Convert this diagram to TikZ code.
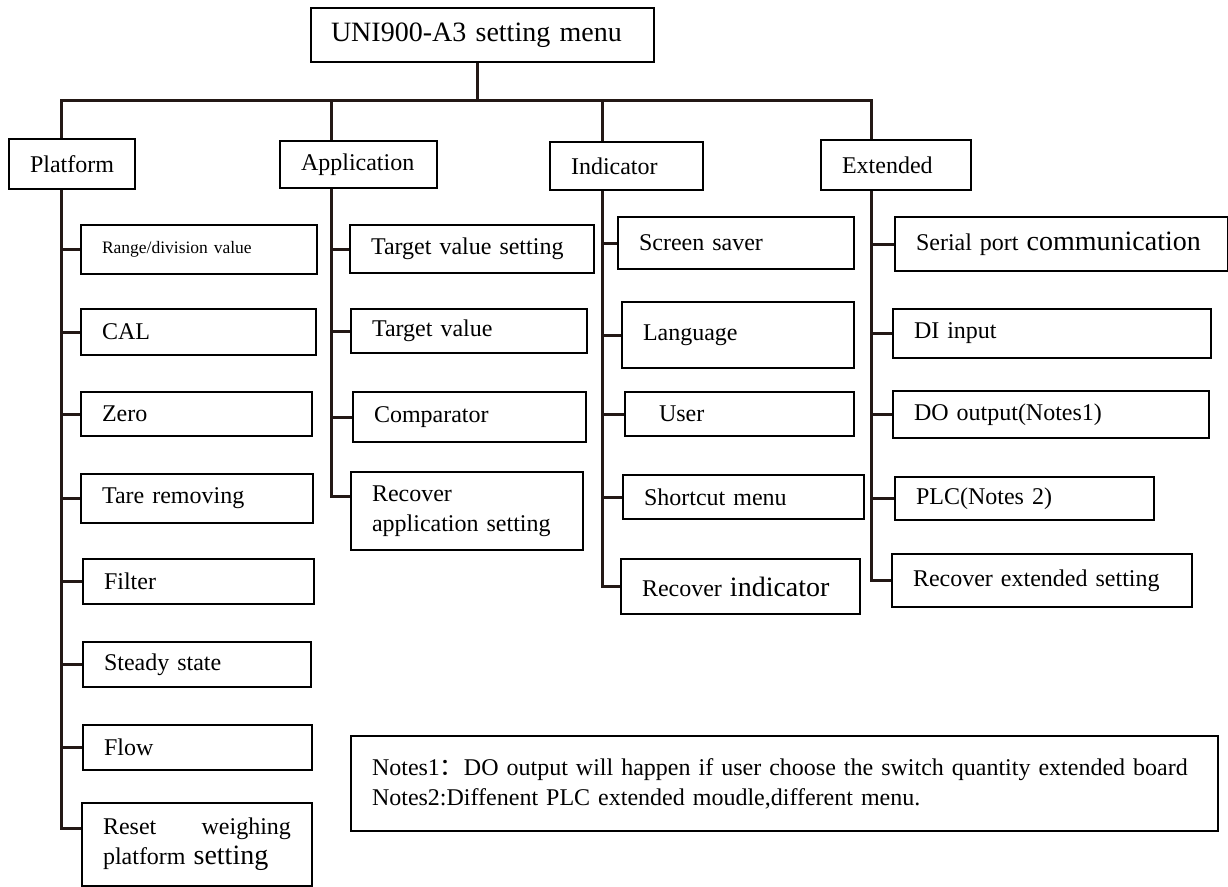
\documentclass[tikz,border=0pt]{standalone}
\usepackage{fontspec}
\setmainfont{Liberation Serif}
\newfontfamily\cjk{Noto Sans CJK SC}
\usetikzlibrary{calc}
\definecolor{lineclr}{RGB}{35,24,21}
\hyphenpenalty=10000
\exhyphenpenalty=10000
\newcommand{\mainsize}{\fontsize{24}{30}\selectfont}
\newcommand{\bigsize}{\fontsize{28}{32}\selectfont}
\newcommand{\smallsize}{\fontsize{17.5}{21}\selectfont}

\tikzstyle{menubox} = [draw=black, line width=2pt, anchor=north west, align=left, inner xsep=21pt, inner ysep=0pt, font=\mainsize]
\tikzstyle{link} = [draw=lineclr, line width=3pt]

\begin{document}
\begin{tikzpicture}[x=1pt,y=-1pt]
	\useasboundingbox (0,0) rectangle (1228,886);
	\node[menubox, font=\bigsize, inner xsep=20pt, minimum width=343pt, minimum height=54pt, text width=303pt] (root) at (310,7) {UNI900-A3 setting menu};

	\node[menubox, minimum width=126pt, minimum height=50pt, text width=84pt] (plat) at (8,138) {Platform};
	\node[menubox, minimum width=157pt, minimum height=47pt, text width=115pt] (app) at (279,140) {Application};
	\node[menubox, minimum width=153pt, minimum height=48pt, text width=111pt] (ind) at (549,141) {Indicator};
	\node[menubox, minimum width=150pt, minimum height=50pt, text width=108pt] (ext) at (820,139) {Extended};

	\node[menubox, font=\smallsize, minimum width=236pt, minimum height=49pt, text width=194pt] (p1) at (80,224) {Range/division value};
	\node[menubox, minimum width=235pt, minimum height=46pt, text width=193pt] (p2) at (80,308) {CAL};
	\node[menubox, minimum width=231pt, minimum height=44pt, text width=189pt] (p3) at (80,391) {Zero};
	\node[menubox, minimum width=232pt, minimum height=49pt, text width=190pt] (p4) at (80,473) {Tare removing};
	\node[menubox, minimum width=231pt, minimum height=45pt, text width=189pt] (p5) at (82,558) {Filter};
	\node[menubox, minimum width=228pt, minimum height=45pt, text width=186pt] (p6) at (82,641) {Steady state};
	\node[menubox, minimum width=229pt, minimum height=45pt, text width=187pt] (p7) at (82,724) {Flow};
	\node[menubox, minimum width=230pt, minimum height=83pt, text width=188pt] (p8) at (81,802) {Reset\hfill weighing\\platform {\bigsize setting}};

	\node[menubox, minimum width=244pt, minimum height=48pt, text width=202pt] (a1) at (349,224) {Target value setting};
	\node[menubox, minimum width=236pt, minimum height=44pt, text width=194pt] (a2) at (350,308) {Target value};
	\node[menubox, minimum width=233pt, minimum height=50pt, text width=191pt] (a3) at (352,391) {Comparator};
	\node[menubox, minimum width=232pt, minimum height=78pt, text width=190pt] (a4) at (350,471) {Recover\\application setting};

	\node[menubox, minimum width=236pt, minimum height=52pt, text width=194pt] (i1) at (617,216) {Screen saver};
	\node[menubox, minimum width=232pt, minimum height=66pt, text width=190pt] (i2) at (621,301) {Language};
	\node[menubox, inner xsep=34pt, minimum width=229pt, minimum height=44pt, text width=161pt] (i3) at (624,391) {User};
	\node[menubox, minimum width=241pt, minimum height=44pt, text width=199pt] (i4) at (622,474) {Shortcut menu};
	\node[menubox, minimum width=239pt, minimum height=55pt, text width=197pt] (i5) at (620,558) {Recover {\bigsize indicator}};

	\node[menubox, minimum width=333pt, minimum height=54pt, text width=291pt] (e1) at (894,216) {Serial port {\bigsize communication}};
	\node[menubox, minimum width=318pt, minimum height=49pt, text width=276pt] (e2) at (892,308) {DI input};
	\node[menubox, minimum width=316pt, minimum height=47pt, text width=274pt] (e3) at (892,390) {DO output(Notes1)};
	\node[menubox, minimum width=259pt, minimum height=43pt, text width=217pt] (e4) at (894,476) {PLC(Notes 2)};
	\node[menubox, minimum width=300pt, minimum height=53pt, text width=258pt] (e5) at (891,553) {Recover extended setting};

	\node[menubox, minimum width=867pt, minimum height=95pt, text width=825pt] (notes) at (350,735) {Notes1{\cjk ：}DO output will happen if user choose the switch quantity extended board\\Notes2:Diffenent PLC extended moudle,different menu.};

	\coordinate (jr) at (477,100);
	\coordinate (j1) at (61,100);
	\coordinate (j2) at (331,100);
	\coordinate (j3) at (602,100);
	\coordinate (j4) at (871,100);
	\draw[link] (root.south -| jr) -- (jr);
	\draw[link] (plat.north -| j1) -- (j1) -- (j4) -- (ext.north -| j4);
	\draw[link] (j2) -- (app.north -| j2);
	\draw[link] (j3) -- (ind.north -| j3);

	\draw[link] (plat.south -| j1) |- ($(p8.north west)+(0,26)$);
	\foreach \c in {p1,p2,p3,p4,p5,p6,p7}
		\draw[link] (\c.west -| j1) -- (\c.west);
	\draw[link] (app.south -| j2) |- ($(a4.north west)+(0,25)$);
	\foreach \c in {a1,a2,a3}
		\draw[link] (\c.west -| j2) -- (\c.west);
	\draw[link] (ind.south -| j3) |- (i5.west);
	\foreach \c in {i1,i2,i3,i4}
		\draw[link] (\c.west -| j3) -- (\c.west);
	\draw[link] (ext.south -| j4) |- (e5.west);
	\foreach \c in {e1,e2,e3,e4}
		\draw[link] (\c.west -| j4) -- (\c.west);
\end{tikzpicture}
\end{document}
